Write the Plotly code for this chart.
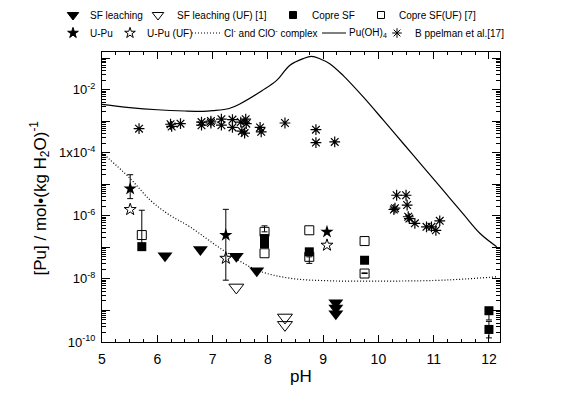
import plotly.graph_objects as go

# ---------------- data ----------------
# Pu(OH)4 solubility curve
puoh4_ph = [5.0, 5.5, 6.0, 6.5, 6.83, 7.0, 7.3, 7.5, 7.9, 8.16, 8.4, 8.64, 8.79, 8.95,
            9.12, 9.36, 9.73, 10.09, 10.45, 10.81, 11.17, 11.53, 11.84, 12.14]
puoh4_c = [3.39e-3, 2.69e-3, 2.29e-3, 2.09e-3, 2.04e-3, 2.14e-3, 2.51e-3, 3.55e-3, 9.33e-3, 1.95e-2,
           5.89e-2, 9.55e-2, 1.12e-1, 9.33e-2, 6.61e-2, 2.82e-2, 5.75e-3, 1.07e-3, 1.95e-4, 3.55e-5,
           6.46e-6, 1.17e-6, 2.75e-7, 1.05e-7]

# Cl- and ClO- complex curve
cl_ph = [5.0, 5.5, 5.87, 6.2, 6.59, 7.19, 7.8, 8.4, 9.12, 10.0, 11.0, 11.6, 12.14]
cl_c = [1.0e-4, 1.58e-5, 3.16e-6, 1.12e-6, 4.47e-7, 8.13e-8, 1.91e-8, 1.05e-8, 8.7e-9,
        8.5e-9, 8.9e-9, 1.0e-8, 1.17e-8]

# Böppelman et al. [17]
bopp_ph = [5.67, 6.24, 6.26, 6.42, 6.80, 6.80, 6.97, 6.97, 7.16, 7.16, 7.36, 7.36, 7.51, 7.53,
           7.60, 7.61, 7.58, 7.86, 7.88, 8.31, 8.87, 8.87, 9.21, 10.33, 10.50, 10.52, 10.28,
           10.30, 10.56, 10.54, 10.66, 10.87, 10.96, 11.04, 11.11]
bopp_c = [5.75e-4, 7.94e-4, 6.76e-4, 8.32e-4, 9.33e-4, 7.41e-4, 1.0e-3, 8.71e-4, 1.15e-3, 7.41e-4,
          1.12e-3, 6.31e-4, 9.33e-4, 4.79e-4, 1.15e-3, 8.32e-4, 4.17e-4, 6.31e-4, 4.57e-4, 8.71e-4,
          5.37e-4, 2.09e-4, 2.19e-4, 4.47e-6, 4.47e-6, 2.19e-6, 1.58e-6, 1.74e-6, 8.13e-7, 9.33e-7,
          5.75e-7, 4.47e-7, 4.47e-7, 3.47e-7, 6.92e-7]

# SF leaching
sf_ph = [6.14, 6.78, 7.43, 7.80, 9.23, 9.23, 9.23]
sf_c = [5.37e-8, 8.51e-8, 5.25e-8, 1.82e-8, 1.74e-9, 1.2e-9, 7.9e-10]

# SF leaching (UF) [1]
sfuf_ph = [7.43, 8.31, 8.31]
sfuf_c = [5.37e-9, 6.0e-10, 3.5e-10]

# Copre SF  (error bounds: upper, lower; None = no bar)
copre_ph = [5.72, 7.94, 7.94, 8.75, 9.75, 12.0, 12.0]
copre_c = [1.05e-7, 1.9e-7, 1.32e-7, 7.2e-8, 3.9e-8, 9.8e-10, 2.5e-10]
copre_hi = [None, None, None, None, None, None, 4.5e-10]
copre_lo = [None, None, None, None, None, 5.0e-10, 1.35e-10]

# Copre SF(UF) [7]
copreuf_ph = [5.72, 7.94, 7.94, 8.75, 8.75, 9.75, 9.75]
copreuf_c = [2.45e-7, 3.1e-7, 6.5e-8, 3.47e-7, 5.0e-8, 1.58e-7, 1.48e-8]
copreuf_hi = [1.5e-6, 4.8e-7, None, None, None, None, 1.55e-8]
copreuf_lo = [1.05e-7, None, None, None, 3.1e-8, None, None]

# U-Pu
upu_ph = [5.51, 7.24, 9.07]
upu_c = [7.2e-6, 2.45e-7, 3.1e-7]
upu_hi = [2.0e-5, 1.6e-6, None]
upu_lo = [3.5e-6, 9.1e-9, None]

# U-Pu (UF)
upuuf_ph = [5.51, 7.24, 9.07]
upuuf_c = [1.58e-6, 4.5e-8, 1.17e-7]

# axis ticks
x_ticks = [5, 6, 7, 8, 9, 10, 11, 12]
y_decades = list(range(-10, 0))
y_label_text = {-10: "10<sup>-10</sup>", -8: "10<sup>-8</sup>", -6: "10<sup>-6</sup>",
                -4: "1x10<sup>-4</sup>", -2: "10<sup>-2</sup>"}

# ---------------- figure ----------------
W, H = 561, 402
PL, PR, PT, PB = 102, 500, 52, 342  # plot-area pixel box
FONT = "Arial, Liberation Sans, sans-serif"
BLK = "black"
DOT = "1px,2px"

fig = go.Figure()


def add_errorbars(xs, c, hi, lo):
    """Error-bar-only trace for the points that carry a bar (drawn under the markers)."""
    idx = [i for i in range(len(c)) if hi[i] is not None or lo[i] is not None]
    if not idx:
        return
    plus = [(hi[i] - c[i]) if hi[i] is not None else 0 for i in idx]
    minus = [(c[i] - lo[i]) if lo[i] is not None else 0 for i in idx]
    fig.add_trace(go.Scatter(x=[xs[i] for i in idx], y=[c[i] for i in idx], mode="markers",
                             marker=dict(size=1, color="rgba(0,0,0,0)"),
                             error_y=dict(type="data", array=plus, arrayminus=minus, symmetric=False,
                                          color=BLK, thickness=1, width=3),
                             showlegend=False))


fig.add_trace(go.Scatter(x=puoh4_ph, y=puoh4_c, mode="lines", line=dict(color=BLK, width=1.2, shape="spline"),
                         showlegend=False))
fig.add_trace(go.Scatter(x=cl_ph, y=cl_c, mode="lines", line=dict(color=BLK, width=1.2, dash=DOT, shape="spline"),
                         showlegend=False))
fig.add_trace(go.Scatter(x=bopp_ph, y=bopp_c, mode="markers",
                         marker=dict(symbol="asterisk-open", size=9, color=BLK, line=dict(color=BLK, width=1.2)),
                         showlegend=False))
fig.add_trace(go.Scatter(x=sf_ph, y=sf_c, mode="markers",
                         marker=dict(symbol="triangle-down", size=13, color=BLK), showlegend=False))
fig.add_trace(go.Scatter(x=sfuf_ph, y=sfuf_c, mode="markers",
                         marker=dict(symbol="triangle-down-open", size=13, color=BLK, line=dict(width=1)),
                         showlegend=False))
add_errorbars(copre_ph, copre_c, copre_hi, copre_lo)
add_errorbars(copreuf_ph, copreuf_c, copreuf_hi, copreuf_lo)
add_errorbars(upu_ph, upu_c, upu_hi, upu_lo)
fig.add_trace(go.Scatter(x=copre_ph, y=copre_c, mode="markers",
                         marker=dict(symbol="square", size=9, color=BLK), showlegend=False))
fig.add_trace(go.Scatter(x=copreuf_ph, y=copreuf_c, mode="markers",
                         marker=dict(symbol="square-open", size=9, color=BLK, line=dict(width=1)),
                         showlegend=False))
fig.add_trace(go.Scatter(x=upu_ph, y=upu_c, mode="markers",
                         marker=dict(symbol="star", size=10, color=BLK), showlegend=False))
fig.add_trace(go.Scatter(x=upuuf_ph, y=upuuf_c, mode="markers",
                         marker=dict(symbol="star-open", size=9, color=BLK, line=dict(width=1)),
                         showlegend=False))

# ---------------- custom legend (overlay pixel axes) ----------------
leg_rows = [
    [("triangle-down", "SF leaching", 73, 88), ("triangle-down-open", "SF leaching (UF) [1]", 158, 175),
     ("square", "Copre SF", 293, 310), ("square-open", "Copre SF(UF) [7]", 381, 397)],
    [("star", "U-Pu", 73, 88), ("star-open", "U-Pu (UF)", 130, 145),
     ("line-dot", "Cl<sup>-</sup> and ClO<sup>-</sup> complex", (192, 220), 222),
     ("line-solid", "Pu(OH)<sub>4</sub>", (322, 346), 347),
     ("asterisk-open", "B ppelman et al.[17]", 397, 413)],
]
leg_y = [15, 33]
sizes = {"triangle-down": 10, "triangle-down-open": 10, "square": 7, "square-open": 7,
         "star": 8, "star-open": 8, "asterisk-open": 8}
annotations = []
for row, yy in zip(leg_rows, leg_y):
    for sym, text, xs, xt in row:
        if sym.startswith("line"):
            fig.add_trace(go.Scatter(x=list(xs), y=[yy, yy], xaxis="x2", yaxis="y2", mode="lines",
                                     line=dict(color=BLK, width=1, dash=DOT if sym == "line-dot" else "solid"),
                                     showlegend=False, hoverinfo="skip"))
        else:
            fig.add_trace(go.Scatter(x=[xs], y=[yy], xaxis="x2", yaxis="y2", mode="markers",
                                     marker=dict(symbol=sym, size=sizes[sym], color=BLK,
                                                 line=dict(color=BLK, width=1)),
                                     showlegend=False, hoverinfo="skip"))
        annotations.append(dict(x=xt, y=yy, xref="x2", yref="y2", text=text, showarrow=False,
                                xanchor="left", yanchor="middle", font=dict(size=10, color=BLK, family=FONT)))

# axis titles
annotations.append(dict(x=25 / W, y=1 - 198 / H, xref="paper", yref="paper",
                        text="[Pu] / mol•(kg H<sub>2</sub>O)<sup>-1</sup>", textangle=-90, showarrow=False,
                        font=dict(size=17, color=BLK, family=FONT)))
annotations.append(dict(x=301 / W, y=1 - 388 / H, xref="paper", yref="paper", text="pH", showarrow=False,
                        font=dict(size=17, color=BLK, family=FONT)))

fig.update_layout(
    width=W, height=H, margin=dict(l=0, r=0, t=0, b=0, pad=0),
    paper_bgcolor="white", plot_bgcolor="rgba(0,0,0,0)",
    showlegend=False, hovermode=False,
    font=dict(family=FONT, color=BLK),
    annotations=annotations,
    xaxis=dict(domain=[PL / W, PR / W], range=[5, 12.2], showline=True, linecolor=BLK, linewidth=1,
               mirror="allticks", ticks="inside", ticklen=7, tickwidth=1, tickcolor=BLK,
               tickvals=x_ticks, ticktext=[str(v) for v in x_ticks], tickfont=dict(size=14, family=FONT),
               ticklabelstandoff=4,
               minor=dict(ticks="inside", dtick=0.25, tick0=5, ticklen=3, tickcolor=BLK, showgrid=False),
               showgrid=False, zeroline=False, automargin=False, anchor="y"),
    yaxis=dict(domain=[1 - PB / H, 1 - PT / H], type="log", range=[-10, -0.81], showline=True, linecolor=BLK,
               linewidth=1, mirror="allticks", ticks="inside", ticklen=8, tickwidth=1, tickcolor=BLK,
               tickvals=[10.0 ** d for d in y_decades],
               ticktext=[y_label_text.get(d, "") for d in y_decades],
               tickfont=dict(size=13, family=FONT), ticklabelstandoff=3,
               minor=dict(ticks="inside", ticklen=4, tickcolor=BLK, showgrid=False,
                          tickvals=[k * 10.0 ** d for d in y_decades for k in range(2, 10)]),
               showgrid=False, zeroline=False, automargin=False, anchor="x"),
    xaxis2=dict(domain=[0, 1], range=[0, W], visible=False, anchor="y2", fixedrange=True),
    yaxis2=dict(domain=[0, 1], range=[H, 0], visible=False, anchor="x2", fixedrange=True),
)

fig.write_html("out.html", config={"displayModeBar": False, "staticPlot": True},
               post_script="document.body.style.margin='0';document.body.style.overflow='hidden';")
